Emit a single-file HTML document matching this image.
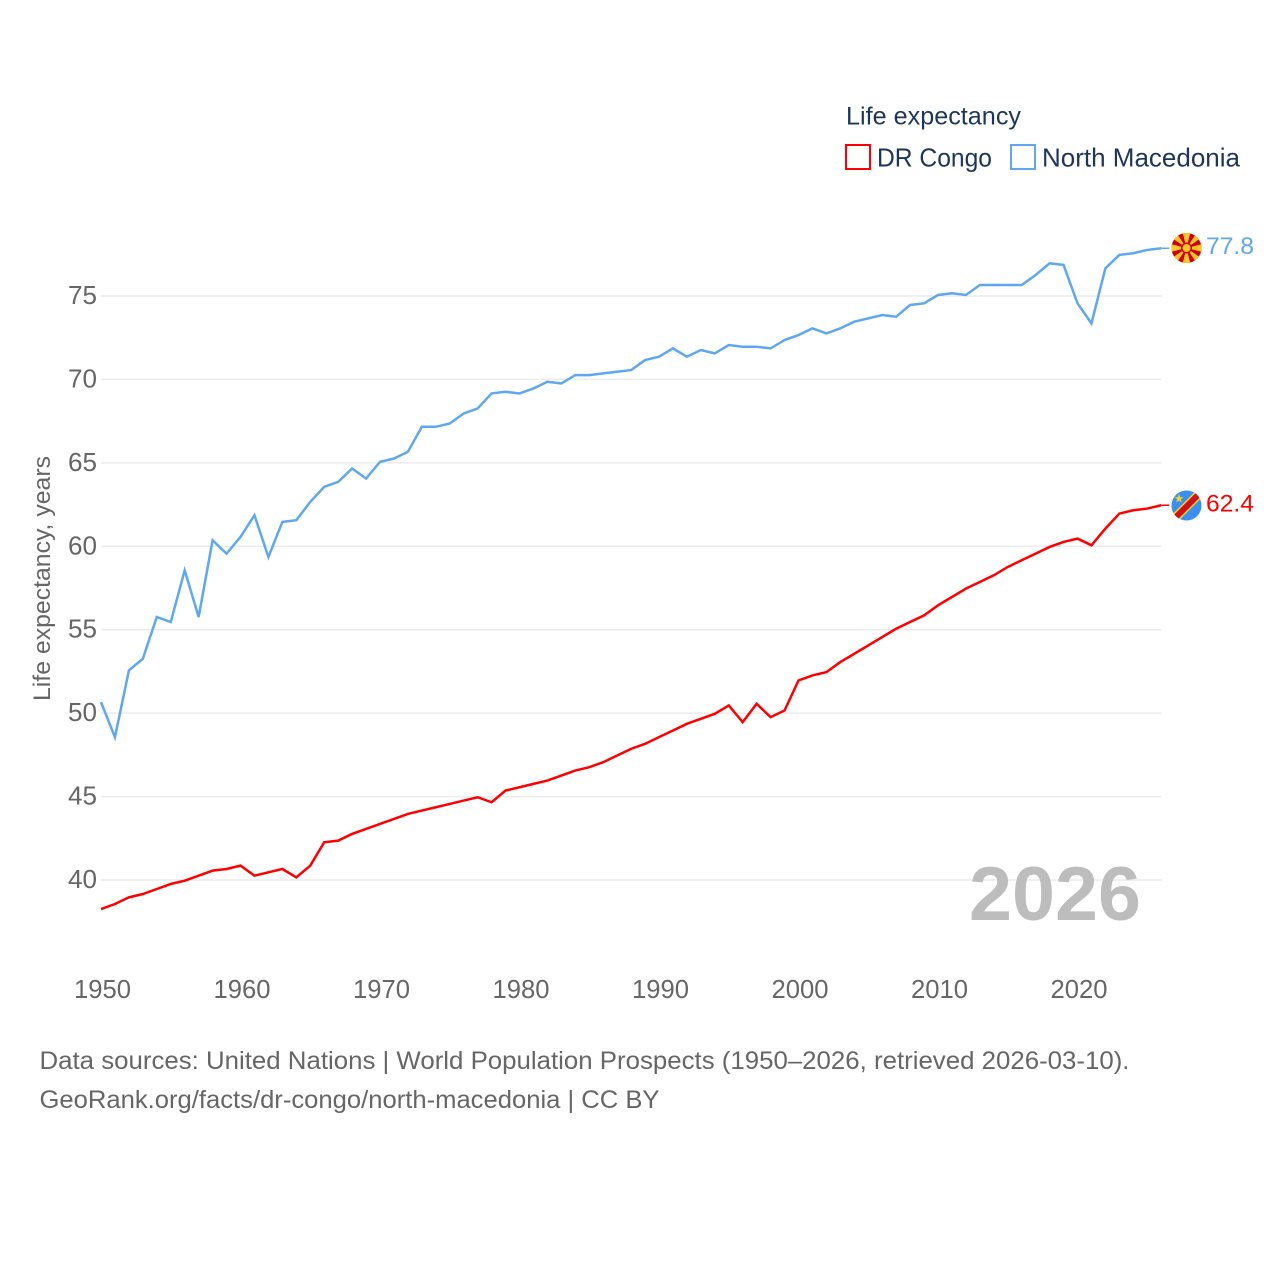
<!DOCTYPE html>
<html lang="en">
<head>
<meta charset="utf-8">
<title>Life expectancy: DR Congo vs North Macedonia</title>
<style>
html,body{margin:0;padding:0;background:#fff;width:1280px;height:1280px;overflow:hidden}
svg{display:block}
text{font-family:"Liberation Sans",sans-serif}
</style>
</head>
<body>
<svg id="chart" xmlns="http://www.w3.org/2000/svg" width="1280" height="1280" viewBox="0 0 1280 1280">
  <defs>
    <clipPath id="flag-clip-mk"><circle cx="1186.5" cy="248" r="15"/></clipPath>
    <clipPath id="flag-clip-cd"><circle cx="1186.5" cy="505.5" r="15"/></clipPath>
  </defs>
  <g id="grid"></g>
  <g id="yticks"></g>
  <g id="xticks"></g>
  <text transform="translate(50,701) rotate(-90)" font-size="24" fill="#666" textLength="245" lengthAdjust="spacingAndGlyphs">Life expectancy, years</text>
  <text x="969" y="920" font-size="76" font-weight="700" fill="#bdbdbd" textLength="172" lengthAdjust="spacingAndGlyphs">2026</text>
  <g id="series" transform="translate(-0.5,-1)"></g>

  <g clip-path="url(#flag-clip-mk)">
    <rect x="1170" y="232" width="34" height="32" fill="#d20000"/>
    <path fill="#ffc726" d="M1186.500 248L1182.500 232h8zM1186.500 248L1182.500 264h8zM1186.500 248L1170.500 244v8zM1186.500 248L1202.500 244v8zM1186.500 248L1172 238l4-5.500zM1186.500 248L1201 238l-4-5.500zM1186.500 248L1172 258l4 5.500zM1186.500 248L1201 258l-4 5.500z"/>
    <circle cx="1186.500" cy="248" r="5.500" fill="#d20000"/>
    <circle cx="1186.500" cy="248" r="4" fill="#ffc726"/>
  </g>
  <g clip-path="url(#flag-clip-cd)">
    <rect x="1170" y="489" width="34" height="34" fill="#3b8ff0"/>
    <path d="M1172 521L1202 491" stroke="#f7d618" stroke-width="9" fill="none"/>
    <path d="M1172 521L1202 491" stroke="#ce1021" stroke-width="6" fill="none"/>
    <polygon points="1179,494 1180.200,497.200 1183.500,497.200 1180.800,499.200 1181.800,502.500 1179,500.500 1176.200,502.500 1177.200,499.200 1174.500,497.200 1177.800,497.200" fill="#f7d618"/>
  </g>
  <text x="1206" y="254" font-size="24.500" fill="#5fa8f0" textLength="48" lengthAdjust="spacingAndGlyphs">77.8</text>
  <text x="1206" y="511.500" font-size="24.500" fill="#ff0000" textLength="48" lengthAdjust="spacingAndGlyphs">62.4</text>

  <g>
    <text x="846" y="124.500" font-size="25" fill="#1d3557" textLength="175" lengthAdjust="spacingAndGlyphs">Life expectancy</text>
    <rect x="846" y="145" width="24" height="24" fill="#fff" stroke="#ff0000" stroke-width="2"/>
    <text x="877" y="166.500" font-size="26" fill="#1d3557" textLength="115" lengthAdjust="spacingAndGlyphs">DR Congo</text>
    <rect x="1011" y="145" width="24" height="24" fill="#fff" stroke="#5fa8f0" stroke-width="2"/>
    <text x="1042" y="166.500" font-size="26" fill="#1d3557" textLength="198" lengthAdjust="spacingAndGlyphs">North Macedonia</text>
  </g>

  <text x="39.500" y="1069" font-size="25" fill="#666" textLength="1090" lengthAdjust="spacingAndGlyphs">Data sources: United Nations | World Population Prospects (1950–2026, retrieved 2026-03-10).</text>
  <text x="39.500" y="1108" font-size="25" fill="#666" textLength="620" lengthAdjust="spacingAndGlyphs">GeoRank.org/facts/dr-congo/north-macedonia | CC BY</text>
</svg>
<script>
const startYear = 1950;
const yTickValues = [40, 45, 50, 55, 60, 65, 70, 75];
const xTickValues = [1950, 1960, 1970, 1980, 1990, 2000, 2010, 2020];
const drCongoValues = [38.2,38.5,38.9,39.1,39.4,39.7,39.9,40.2,40.5,40.6,40.8,40.2,40.4,40.6,40.1,40.8,42.2,42.3,42.7,43.0,43.3,43.6,43.9,44.1,44.3,44.5,44.7,44.9,44.6,45.3,45.5,45.7,45.9,46.2,46.5,46.7,47.0,47.4,47.8,48.1,48.5,48.9,49.3,49.6,49.9,50.4,49.4,50.5,49.7,50.1,51.9,52.2,52.4,53.0,53.5,54.0,54.5,55.0,55.4,55.8,56.4,56.9,57.4,57.8,58.2,58.7,59.1,59.5,59.9,60.2,60.4,60.0,61.0,61.9,62.1,62.2,62.4];
const northMacedoniaValues = [50.6,48.5,52.5,53.2,55.7,55.4,58.5,55.7,60.3,59.5,60.5,61.8,59.3,61.4,61.5,62.6,63.5,63.8,64.6,64.0,65.0,65.2,65.6,67.1,67.1,67.3,67.9,68.2,69.1,69.2,69.1,69.4,69.8,69.7,70.2,70.2,70.3,70.4,70.5,71.1,71.3,71.8,71.3,71.7,71.5,72.0,71.9,71.9,71.8,72.3,72.6,73.0,72.7,73.0,73.4,73.6,73.8,73.7,74.4,74.5,75.0,75.1,75.0,75.6,75.6,75.6,75.6,76.2,76.9,76.8,74.5,73.3,76.6,77.4,77.5,77.7,77.8];

const NS = 'http://www.w3.org/2000/svg';
const xScale = year => 101.5 + (year - 1950) * 13.95;
const yScale = value => 880 - (value - 40) * 16.686;

function make(tag, parent, attrs, content) {
  const el = document.createElementNS(NS, tag);
  for (const k in attrs) el.setAttribute(k, attrs[k]);
  if (content !== undefined) el.textContent = content;
  parent.appendChild(el);
  return el;
}

const gridGroup = document.getElementById('grid');
const yGroup = document.getElementById('yticks');
const xGroup = document.getElementById('xticks');
const seriesGroup = document.getElementById('series');

yTickValues.forEach(v => {
  const line = make('line', gridGroup, {x1: 101, x2: 1161.5, y1: yScale(v), y2: yScale(v), stroke: '#ececec', 'stroke-width': 1.5});
  
  
  const label = make('text', yGroup, {x: 97, y: yScale(v) + 8, 'text-anchor': 'end', 'font-size': 25.5, fill: '#666', textLength: 29, lengthAdjust: 'spacingAndGlyphs'}, String(v));
  
  
});

xTickValues.forEach(y => {
  const label = make('text', xGroup, {x: xScale(y) + 1, y: 998, 'text-anchor': 'middle', 'font-size': 25.5, fill: '#666', textLength: 57, lengthAdjust: 'spacingAndGlyphs'}, String(y));
  
  
});

function pathFor(values) {
  return values.map((v, i) => (i ? 'L' : 'M') + xScale(startYear + i).toFixed(2) + ' ' + yScale(v).toFixed(2)).join('');
}

const drLine = make('path', seriesGroup, {d: pathFor(drCongoValues), fill: 'none', stroke: '#ff0000', 'stroke-width': 2.5, 'stroke-linejoin': 'miter'});



const mkLine = make('path', seriesGroup, {d: pathFor(northMacedoniaValues), fill: 'none', stroke: '#5fa8f0', 'stroke-width': 2.5, 'stroke-linejoin': 'miter'});



const lastYear = startYear + drCongoValues.length - 1;
const drLast = yScale(drCongoValues[drCongoValues.length - 1]);
const mkLast = yScale(northMacedoniaValues[northMacedoniaValues.length - 1]);

const drConnector = make('line', seriesGroup, {x1: xScale(lastYear), x2: xScale(lastYear) + 8, y1: drLast, y2: drLast, stroke: '#ff0000', 'stroke-width': 1.5});



const mkConnector = make('line', seriesGroup, {x1: xScale(lastYear), x2: xScale(lastYear) + 8, y1: mkLast, y2: mkLast, stroke: '#5fa8f0', 'stroke-width': 1.5});


</script>
</body>
</html>
